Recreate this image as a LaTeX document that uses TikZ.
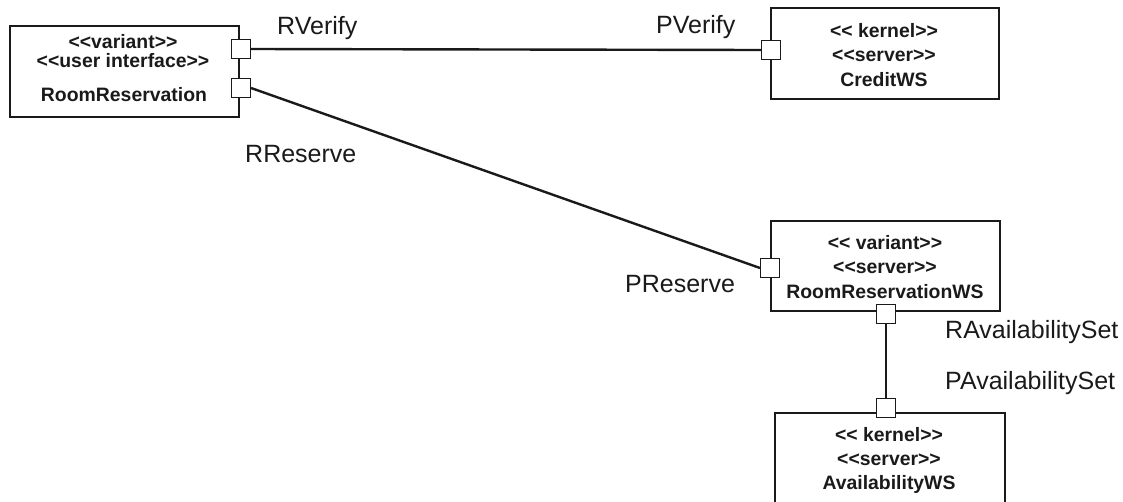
\documentclass[tikz,border=0pt]{standalone}
\usepackage{fontspec}
\usetikzlibrary{backgrounds}
% no TeX ligature mapping, so << and >> stay as plain angle brackets
\newfontfamily\diagfont{Liberation Sans}
\definecolor{ink}{HTML}{1A1A1A}
\begin{document}
\begin{tikzpicture}[x=1pt,y=-1pt,
  compbox/.style={draw=ink, line width=1.3pt, rectangle, inner sep=0pt},
  portbox/.style={draw=ink, fill=white, line width=1.1pt, rectangle,
    minimum size=19pt, inner sep=0pt},
  conn/.style={draw=ink, line width=2.4pt},
  boxtext/.style={font=\diagfont\bfseries\fontsize{19.4}{22}\selectfont,
    anchor=base, inner sep=0pt, text=ink},
  portlabel/.style={font=\diagfont\fontsize{25}{29}\selectfont,
    anchor=base west, inner sep=0pt, text=ink}]
\clip (0,0) rectangle (1123,501);

% components
\node[compbox, minimum width=229pt, minimum height=91pt] (rr)   at (124.5,71.5) {};
\node[compbox, minimum width=228pt, minimum height=91pt] (cw)   at (885,53.5)   {};
\node[compbox, minimum width=229pt, minimum height=90pt] (rrws) at (885.5,266)  {};
\node[compbox, minimum width=230pt, minimum height=91pt] (aws)  at (890,458.5)  {};

% ports, sitting on the component borders
\node[portbox] (pRV)  at (241,49)  {};
\node[portbox] (pRR)  at (241,88)  {};
\node[portbox] (pPV)  at (771,50)  {};
\node[portbox] (pPR)  at (770,268) {};
\node[portbox] (pRA)  at (886,314) {};
\node[portbox] (pPA)  at (886,408) {};

% connectors between ports, kept beneath the ports
\begin{pgfonlayer}{background}
\fill[white] (0,0) rectangle (1123,501);
\draw[conn] (pRV.east) -- (pPV.west);
\draw[conn] (pRR.east) -- (pPR.west);
\draw[conn] (pRA.south) -- (pPA.north);
\end{pgfonlayer}

% component texts
\node[boxtext] (rrA) at (123,48)  {<<variant>>};
\node[boxtext] (rrB) at (123,67)  {<<user interface>>};
\node[boxtext] (rrC) at (124,101) {RoomReservation};

\node[boxtext] (cwA) at (884,37) {<< kernel>>};
\node[boxtext] (cwB) at (884,61) {<<server>>};
\node[boxtext] (cwC) at (884,86) {CreditWS};

\node[boxtext] (rwA) at (885,249) {<< variant>>};
\node[boxtext] (rwB) at (885,273) {<<server>>};
\node[boxtext] (rwC) at (885,298) {RoomReservationWS};

\node[boxtext] (awA) at (889,441) {<< kernel>>};
\node[boxtext] (awB) at (889,465) {<<server>>};
\node[boxtext] (awC) at (889,489) {AvailabilityWS};

% port labels
\node[portlabel] (lRV) at (277,34)  {RVerify};
\node[portlabel] (lPV) at (656,33)  {PVerify};
\node[portlabel] (lRR) at (245,162) {RReserve};
\node[portlabel] (lPR) at (625,292) {PReserve};
\node[portlabel] (lRA) at (945,338) {RAvailabilitySet};
\node[portlabel] (lPA) at (945,389) {PAvailabilitySet};
\end{tikzpicture}
\end{document}
